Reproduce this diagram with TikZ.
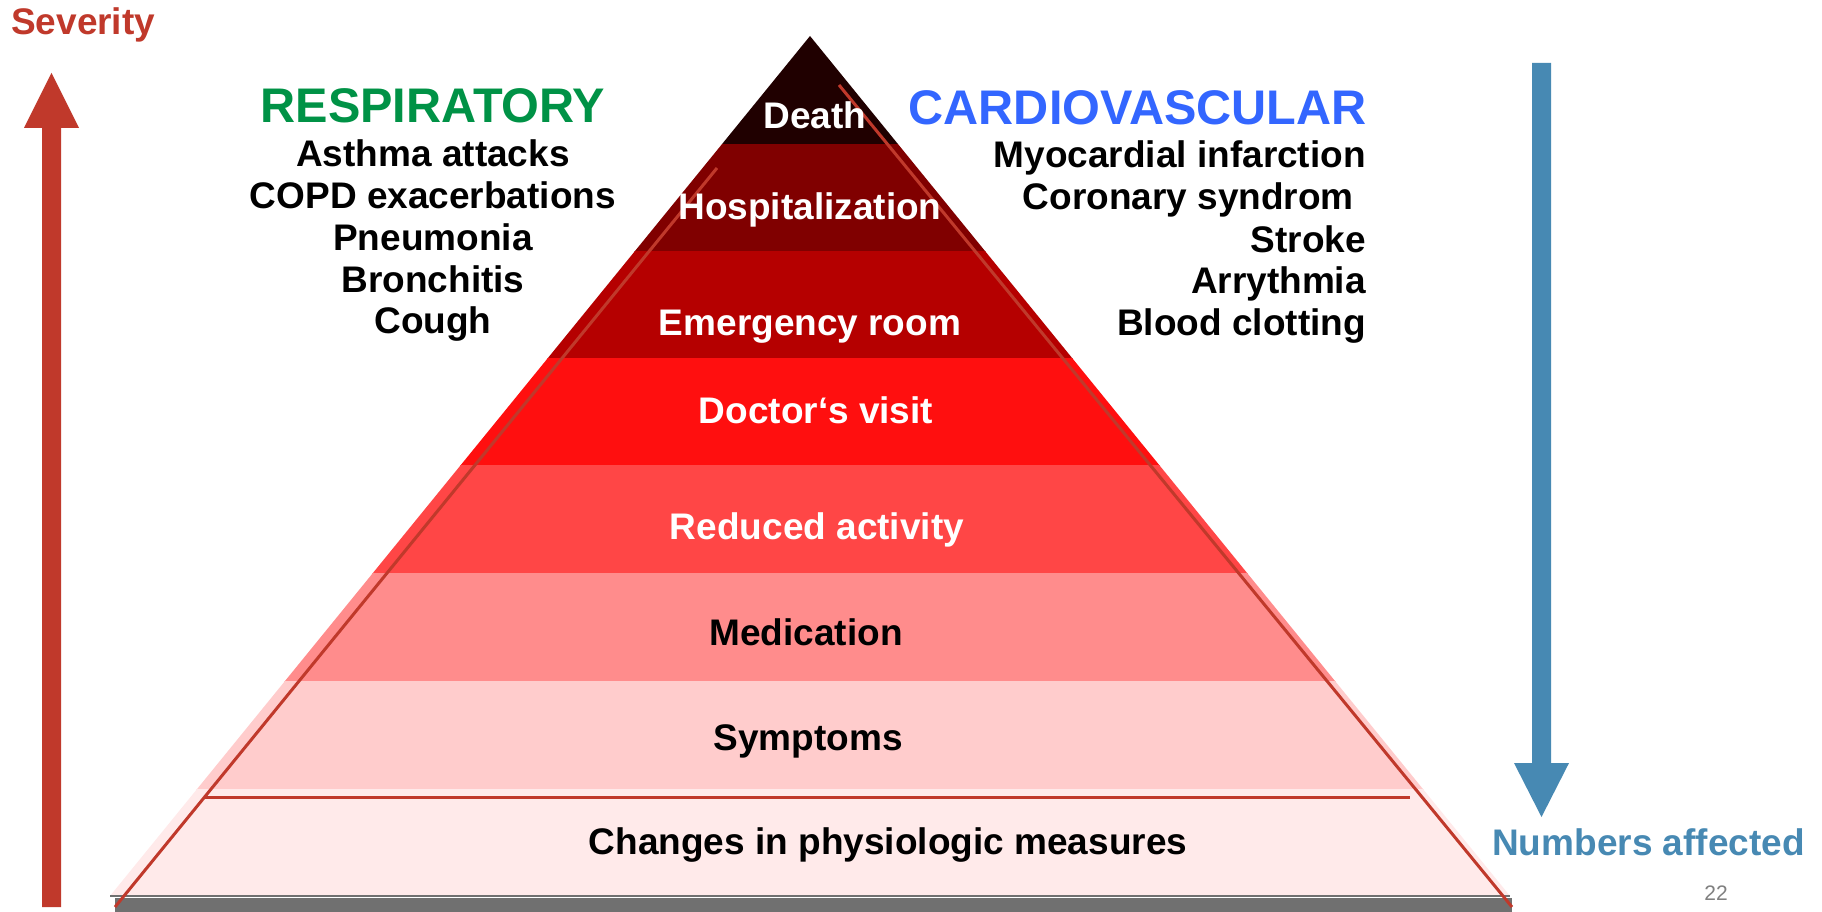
\documentclass[tikz,border=0pt]{standalone}
\usepackage{fontspec}
\setmainfont{Liberation Sans}
\definecolor{cDeath}{RGB}{32,0,0}
\definecolor{cHosp}{RGB}{128,0,0}
\definecolor{cEmerg}{RGB}{181,0,0}
\definecolor{cDoc}{RGB}{255,15,15}
\definecolor{cRed}{RGB}{255,70,70}
\definecolor{cMed}{RGB}{255,140,140}
\definecolor{cSym}{RGB}{255,204,204}
\definecolor{cChg}{RGB}{255,234,234}
\definecolor{sevred}{RGB}{192,57,43}
\definecolor{numblue}{RGB}{71,137,179}
\definecolor{respgreen}{RGB}{0,146,70}
\definecolor{cardblue}{RGB}{51,102,255}
\definecolor{basegray}{RGB}{112,112,112}
\begin{document}
\begin{tikzpicture}[x=1pt,y=-1pt,
  txt/.style={inner sep=0pt, anchor=base, font=\fontsize{37}{42}\selectfont\bfseries},
  bandw/.style={txt, text=white},
  bandb/.style={txt, text=black},
  listl/.style={txt},
  listr/.style={txt, anchor=base east},
  head/.style={inner sep=0pt, anchor=base, font=\fontsize{48.6}{54}\selectfont\bfseries},
  redline/.style={draw=sevred, line width=3pt}]
\useasboundingbox (0,0) rectangle (1822,912);
\fill[white] (0,0) rectangle (1822,912);

% pyramid bands, cut to the triangle outline
\begin{scope}
  \clip (810,36) -- (1510,896) -- (110,896) -- cycle;
  \fill[cDeath] (0,30)  rectangle (1822,144.5);
  \fill[cHosp]  (0,144) rectangle (1822,251.5);
  \fill[cEmerg] (0,251) rectangle (1822,358.5);
  \fill[cDoc]   (0,358) rectangle (1822,465.5);
  \fill[cRed]   (0,465) rectangle (1822,573.5);
  \fill[cMed]   (0,573) rectangle (1822,681.5);
  \fill[cSym]   (0,681) rectangle (1822,789.5);
  \fill[cChg]   (0,789) rectangle (1822,896);
\end{scope}

% base of the pyramid
\fill[basegray] (115,898) rectangle (1512,912);
\draw[basegray, line width=1.5pt] (110,896) -- (1510,896);

% red guide lines
\coordinate (l1) at (717,168);
\coordinate (l2) at (115,907);
\coordinate (r1) at (839,85);
\coordinate (r2) at (1512,907);
\coordinate (h1) at (204,797);
\coordinate (h2) at (1410,797);
\draw[redline] (l1) -- (l2);
\draw[redline] (r1) -- (r2);
\draw[redline] (h1) -- (h2);

% band labels
\node[bandw] (death) at (815,129) {Death};
\node[bandw] (hosp)  at (810,219) {Hospitalization};
\node[bandw] (emerg) at (810,335) {Emergency room};
\node[bandw] (doc)   at (816,423) {Doctor‘s visit};
\node[bandw] (redu)  at (817,539) {Reduced activity};
\node[bandb] (med)   at (806,645) {Medication};
\node[bandb] (sym)   at (808,750) {Symptoms};
\node[bandb] (chg)   at (888,854) {Changes in physiologic measures};

% respiratory column
\node[head, text=respgreen] (resp) at (433,123) {RESPIRATORY};
\node[listl] (r-a) at (433,167) {Asthma attacks};
\node[listl] (r-b) at (433,208) {COPD exacerbations};
\node[listl] (r-c) at (433,250) {Pneumonia};
\node[listl] (r-d) at (433,292) {Bronchitis};
\node[listl] (r-e) at (433,333) {Cough};

% cardiovascular column
\node[head, text=cardblue, anchor=base east] (card) at (1367,125) {CARDIOVASCULAR};
\node[listr] (c-a) at (1366,168) {Myocardial infarction};
\node[listr] (c-b) at (1366,210) {Coronary syndrom\hspace*{12pt}};
\node[listr] (c-c) at (1366,252) {Stroke};
\node[listr] (c-d) at (1366,293) {Arrythmia};
\node[listr] (c-e) at (1366,335) {Blood clotting};

% severity arrow
\fill[sevred] (42,907) -- (42,128) -- (24,128) -- (51.5,73) -- (79,128) -- (61,128) -- (61,907) -- cycle;
\node[txt, anchor=base west, text=sevred] (sev) at (11,35) {Severity};

% numbers affected arrow
\fill[numblue] (1532,63) -- (1551,63) -- (1551,763) -- (1569,763) -- (1541.5,817) -- (1514,763) -- (1532,763) -- cycle;
\node[txt, anchor=base west, text=numblue] (num) at (1492,855) {Numbers affected};

% page number
\node[inner sep=0pt, anchor=base, text={rgb,255:red,128;green,128;blue,128}, font=\fontsize{21}{24}\selectfont] (pg) at (1716,900) {22};
\end{tikzpicture}
\end{document}
